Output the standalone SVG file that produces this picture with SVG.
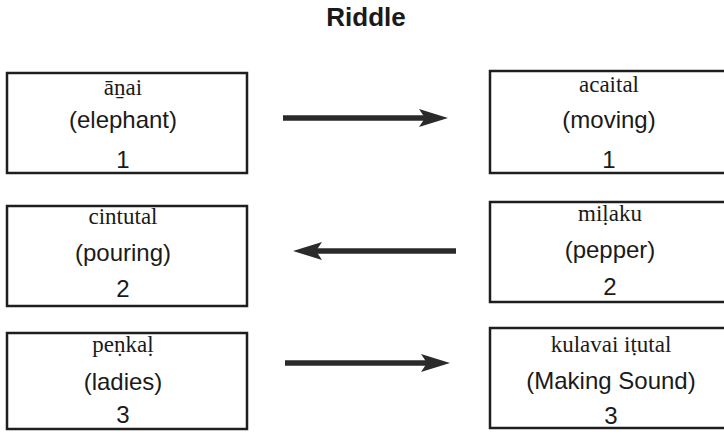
<svg xmlns="http://www.w3.org/2000/svg" width="724" height="435" viewBox="0 0 724 435">
<style>
.box{fill:#fff;stroke:#1e1e1e;stroke-width:2.5}
.tr{font-family:"Liberation Serif","Times New Roman",serif;font-size:23px;fill:#1a1a1a;text-anchor:middle}
.en{font-family:"Liberation Sans",Arial,sans-serif;font-size:24px;fill:#1a1a1a;text-anchor:middle}
.title{font-family:"Liberation Sans",Arial,sans-serif;font-size:26px;font-weight:bold;fill:#1a1a1a;text-anchor:middle}
.arr{stroke:#2a2a2a;stroke-width:5.5;fill:none}
.head{fill:#2a2a2a}
</style>
<rect width="724" height="435" fill="#fff"/>
<text class="title" x="366" y="26">Riddle</text>
<g id="n1">
<rect class="box" x="7" y="73" width="240" height="100"/>
<text class="tr" x="123" y="95">āṉai</text>
<text class="en" x="123" y="128">(elephant)</text>
<text class="en" x="123" y="168">1</text>
</g>
<g id="n2">
<rect class="box" x="490" y="71" width="240" height="102"/>
<text class="tr" x="609" y="92">acaital</text>
<text class="en" x="609" y="128">(moving)</text>
<text class="en" x="609" y="168">1</text>
</g>
<g id="n3">
<rect class="box" x="7" y="206" width="240" height="100"/>
<text class="tr" x="123" y="224">cintutal</text>
<text class="en" x="123" y="261">(pouring)</text>
<text class="en" x="123" y="297">2</text>
</g>
<g id="n4">
<rect class="box" x="490" y="202" width="240" height="100"/>
<text class="tr" x="610" y="221">miḷaku</text>
<text class="en" x="610" y="258">(pepper)</text>
<text class="en" x="610" y="295">2</text>
</g>
<g id="n5">
<rect class="box" x="7" y="333" width="240" height="96"/>
<text class="tr" x="123" y="352">peṇkaḷ</text>
<text class="en" x="123" y="390">(ladies)</text>
<text class="en" x="123" y="423">3</text>
</g>
<g id="n6">
<rect class="box" x="490" y="328" width="240" height="100"/>
<text class="tr" x="611" y="352">kulavai iṭutal</text>
<text class="en" x="611" y="389">(Making Sound)</text>
<text class="en" x="611" y="424">3</text>
</g>
<g id="connectors">
<line class="arr" x1="283" y1="118" x2="426" y2="118"/>
<path class="head" d="M419,109 L448,118 L419,127 L425,118 Z"/>
<line class="arr" x1="456" y1="251" x2="316" y2="251"/>
<path class="head" d="M322,242 L293,251 L322,260 L316,251 Z"/>
<line class="arr" x1="285" y1="363" x2="428" y2="363"/>
<path class="head" d="M421,354 L450,363 L421,372 L427,363 Z"/>
</g>
</svg>
